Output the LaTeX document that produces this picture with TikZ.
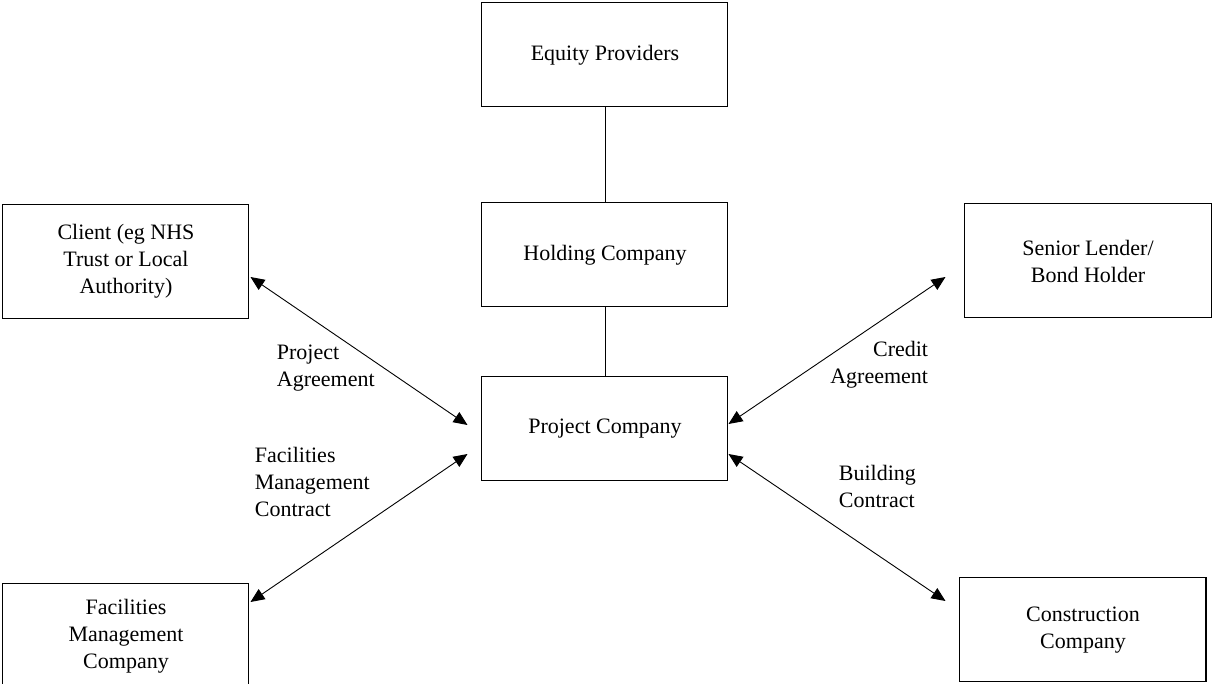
\documentclass[tikz,border=0pt]{standalone}
\usepackage{fontspec}
\setmainfont{Liberation Serif}
\usetikzlibrary{positioning,arrows.meta}

\begin{document}
\begin{tikzpicture}[font=\fontsize{11}{13.5}\selectfont,
		box/.style={draw,line width=0.5pt,minimum width=123pt,minimum height=52pt,align=center,inner sep=2pt},
		sidebox/.style={box,minimum height=57pt},
		conlabel/.style={inner sep=0pt},
		link/.style={line width=0.45pt,{Triangle[length=7pt,width=6pt]}-{Triangle[length=7pt,width=6pt]}}]
			\useasboundingbox (-302.5pt,27.5pt) rectangle (303.5pt,-314.5pt);

			\node[box]													(eq)	{Equity Providers};
			\node[box,below=47.5pt of eq]								(hc)	{Holding Company};
			\node[box,below=34.5pt of hc]								(pc)	{Project Company};

			\node[sidebox,left=116pt of pc,yshift=83.75pt]				(cl)	{Client (eg NHS\\Trust or Local\\Authority)};
			\node[sidebox,right=118pt of pc,yshift=84pt]				(sl)	{Senior Lender/\\Bond Holder};
			\node[box,left=116pt of pc,yshift=-103.5pt]				(fm)	{Facilities\\Management\\Company};
			\node[box,right=115.5pt of pc,yshift=-100.5pt]				(cc)	{Construction\\Company};

			\node[conlabel,anchor=west,align=left] (pa) at ([xshift=-102.5pt,yshift=30.5pt]pc.west) {Project\\Agreement};
			\node[conlabel,anchor=west,align=left] (fmc) at ([xshift=-113.5pt,yshift=-26.5pt]pc.west) {Facilities\\Management\\Contract};
			\node[conlabel,anchor=east,align=right] (ca) at ([xshift=100pt,yshift=32.25pt]pc.east) {Credit\\Agreement};
			\node[conlabel,anchor=west,align=left] (bc) at ([xshift=55pt,yshift=-28.75pt]pc.east) {Building\\Contract};

			\draw[line width=0.45pt] (eq) -- (hc);
			\draw[line width=0.45pt] (hc) -- (pc);
			\draw[link] ([xshift=0.5pt,yshift=-7.75pt]cl.east) -- ([xshift=-7pt,yshift=2pt]pc.west);
			\draw[link] ([xshift=0.5pt,yshift=17pt]fm.east) -- ([xshift=-7pt,yshift=-12.5pt]pc.west);
			\draw[link] ([yshift=2.5pt]pc.east) -- ([xshift=-9.5pt,yshift=-8pt]sl.west);
			\draw[link] ([yshift=-12.5pt]pc.east) -- ([xshift=-7pt,yshift=14.5pt]cc.west);
		\end{tikzpicture}
\end{document}
